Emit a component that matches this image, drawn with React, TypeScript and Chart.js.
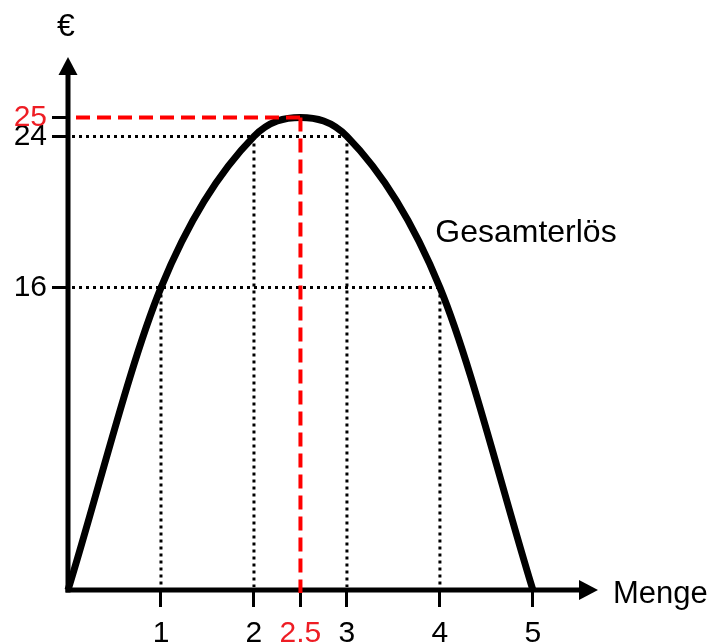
import React, { useEffect, useRef } from "react";
import { Chart, registerables } from "chart.js";

Chart.register(...registerables);

// ---- data ----
const quantities = [0, 1, 2, 2.5, 3, 4, 5];
const revenue = [0, 16, 24, 25, 24, 16, 0];
const xTickValues = [1, 2, 2.5, 3, 4, 5];
const yTickValues = [16, 24, 25];
const guidePointsX = [1, 2, 3, 4];
const guidePointsY = [16, 24, 24, 16];
const maxQuantity = 2.5;
const maxRevenue = 25;
const seriesLabel = "Gesamterlös";
const seriesLabelAt = { x: 3.95, y: 18.4 };
const xAxisTitle = "Menge";
const yAxisTitle = "€";

const RED_LINE = "#ff0000";
const RED_TEXT = "#ee1d24";
const FONT = "'Liberation Sans', Arial, Helvetica, sans-serif";

const illustration = {
  id: "illustration",
  beforeDatasetsDraw(chart: any) {
    const { ctx, chartArea, scales } = chart;
    const xs = scales.x;
    const ys = scales.y;
    const x0 = xs.getPixelForValue(0);
    const y0 = ys.getPixelForValue(0);
    ctx.save();
    // dotted guides
    ctx.strokeStyle = "#000";
    ctx.lineWidth = 3;
    ctx.setLineDash([3, 4]);
    ctx.lineCap = "butt";
    for (let i = 0; i < guidePointsX.length; i++) {
      const px = xs.getPixelForValue(guidePointsX[i]);
      const py = ys.getPixelForValue(guidePointsY[i]);
      ctx.beginPath();
      ctx.moveTo(x0 + 4, py);
      ctx.lineTo(px, py);
      ctx.stroke();
      ctx.beginPath();
      ctx.moveTo(px, py);
      ctx.lineTo(px, y0 - 3);
      ctx.stroke();
    }
    ctx.setLineDash([]);
    // axes with arrows
    ctx.fillStyle = "#000";
    ctx.lineWidth = 5;
    const top = chartArea.top;
    const right = chartArea.right;
    ctx.beginPath();
    ctx.moveTo(x0, y0 + 2.5);
    ctx.lineTo(x0, top + 15);
    ctx.stroke();
    ctx.beginPath();
    ctx.moveTo(x0, top);
    ctx.lineTo(x0 + 9.5, top + 18);
    ctx.lineTo(x0 - 9.5, top + 18);
    ctx.closePath();
    ctx.fill();
    ctx.beginPath();
    ctx.moveTo(x0 - 2.5, y0);
    ctx.lineTo(right - 15, y0);
    ctx.stroke();
    ctx.beginPath();
    ctx.moveTo(right, y0);
    ctx.lineTo(right - 19, y0 - 10);
    ctx.lineTo(right - 19, y0 + 10);
    ctx.closePath();
    ctx.fill();
    ctx.restore();
  },
  afterDatasetsDraw(chart: any) {
    const { ctx, chartArea, scales } = chart;
    const xs = scales.x;
    const ys = scales.y;
    const x0 = xs.getPixelForValue(0);
    const y0 = ys.getPixelForValue(0);
    const mx = xs.getPixelForValue(maxQuantity);
    const my = ys.getPixelForValue(maxRevenue);
    ctx.save();
    ctx.strokeStyle = RED_LINE;
    ctx.lineWidth = 4;
    ctx.setLineDash([14, 7]);
    ctx.beginPath();
    ctx.moveTo(x0 + 8, my);
    ctx.lineTo(mx, my);
    ctx.stroke();
    ctx.beginPath();
    ctx.moveTo(mx, my);
    ctx.lineTo(mx, y0 + 3);
    ctx.stroke();
    ctx.setLineDash([]);
    // texts
    ctx.fillStyle = "#000";
    ctx.textBaseline = "alphabetic";
    ctx.textAlign = "left";
    ctx.font = `32px ${FONT}`;
    ctx.fillText(
      seriesLabel,
      xs.getPixelForValue(seriesLabelAt.x),
      ys.getPixelForValue(seriesLabelAt.y)
    );
    ctx.font = `31px ${FONT}`;
    ctx.fillText(xAxisTitle, chartArea.right + 15, y0 + 13);
    ctx.textAlign = "center";
    ctx.font = `32px ${FONT}`;
    ctx.fillText(yAxisTitle, x0 - 2, chartArea.top - 21);
    ctx.restore();
  },
};

export default function App() {
  const ref = useRef<HTMLCanvasElement | null>(null);
  useEffect(() => {
    if (!ref.current) return;
    Chart.defaults.font.family = FONT;
    const chart = new Chart(ref.current, {
      type: "line",
      data: {
        datasets: [
          {
            label: seriesLabel,
            data: quantities.map((q, i) => ({ x: q, y: revenue[i] })),
            borderColor: "#000",
            borderWidth: 7,
            pointRadius: 0,
            cubicInterpolationMode: "monotone",
            fill: false,
            clip: false,
          } as any,
        ],
      },
      options: {
        responsive: false,
        animation: false,
        devicePixelRatio: 1,
        layout: { padding: { left: 0, top: 57, right: 115, bottom: 0 } },
        plugins: { legend: { display: false }, tooltip: { enabled: false } },
        scales: {
          x: {
            type: "linear",
            min: 0,
            max: 5.7,
            border: { display: false },
            grid: {
              display: true,
              drawOnChartArea: false,
              drawTicks: true,
              tickLength: 17,
              lineWidth: 3,
              color: "#000",
            },
            ticks: {
              autoSkip: false,
              maxRotation: 0,
              padding: 9,
              font: { size: 30, family: FONT },
              color: (c: any) => (c.tick && c.tick.value === maxQuantity ? RED_TEXT : "#000"),
              callback: (v: any) => String(v),
            },
            afterBuildTicks: (s: any) => {
              s.ticks = xTickValues.map((v) => ({ value: v }));
            },
            afterFit: (s: any) => {
              s.height = 54;
            },
          },
          y: {
            type: "linear",
            min: 0,
            max: 28.2,
            border: { display: false },
            grid: {
              display: true,
              drawOnChartArea: false,
              drawTicks: true,
              tickLength: 16,
              lineWidth: 3,
              color: "#000",
            },
            ticks: {
              autoSkip: false,
              padding: 5,
              font: { size: 30, family: FONT },
              color: (c: any) => (c.tick && c.tick.value === maxRevenue ? RED_TEXT : "#000"),
              callback: (v: any) => String(v),
            },
            afterBuildTicks: (s: any) => {
              s.ticks = yTickValues.map((v) => ({ value: v }));
            },
            afterFit: (s: any) => {
              s.width = 68;
            },
          },
        },
      },
      plugins: [illustration],
    });
    return () => chart.destroy();
  }, []);
  return (
    <div style={{ position: "fixed", left: 0, top: 0, width: 713, height: 644, background: "#fff" }}>
      <canvas ref={ref} width={713} height={644} style={{ display: "block" }} />
    </div>
  );
}
